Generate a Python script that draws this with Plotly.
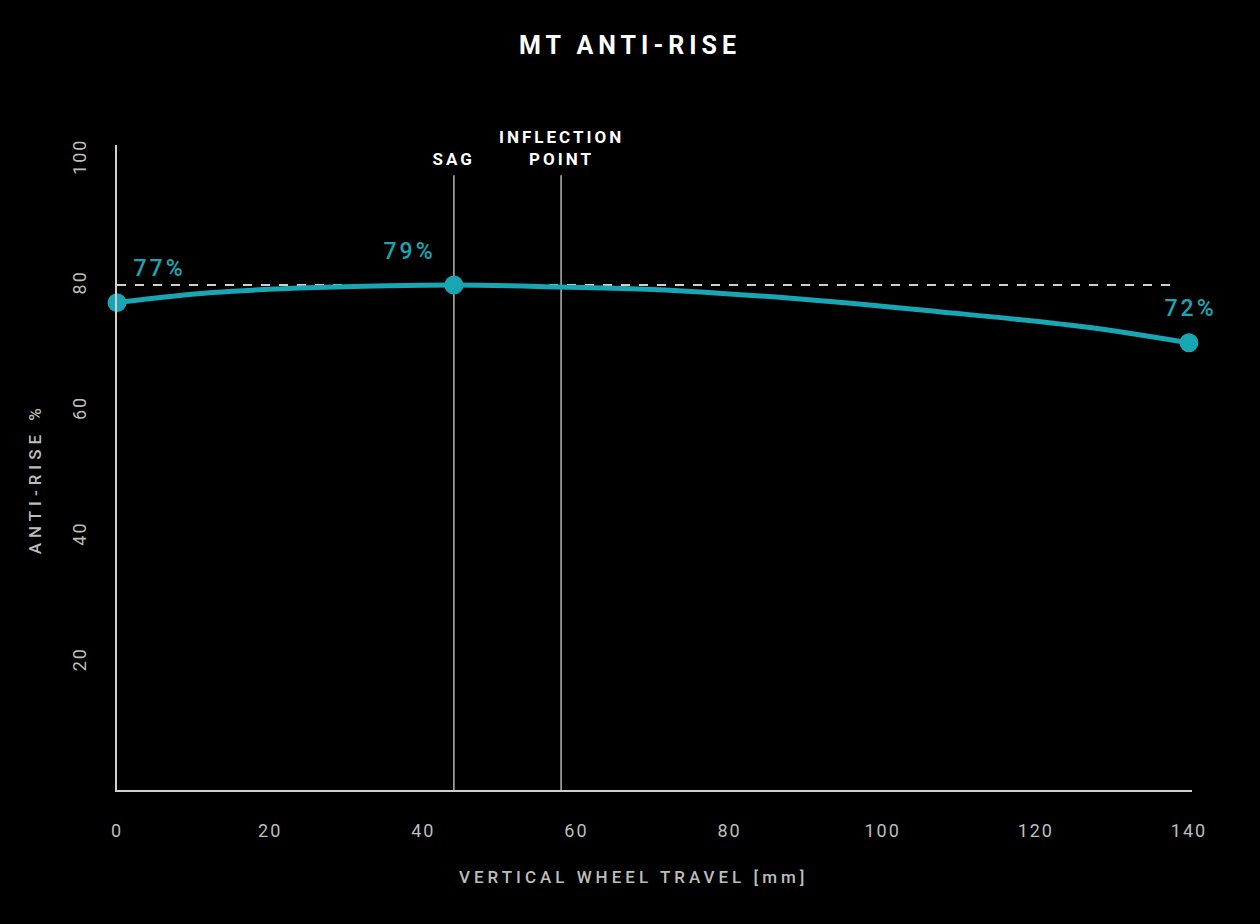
import plotly.graph_objects as go

# Curve
travel = [0, 12.5, 26, 44, 58, 70, 88, 107, 126, 140]
anti_rise = [77.2, 78.8, 79.6, 80.0, 79.7, 79.3, 77.9, 75.8, 73.4, 70.8]

# Marked points and their labels
key_travel = [0, 44, 140]
key_anti_rise = [77.2, 80.0, 70.8]
key_labels = ['77%', '79%', '72%']

# Reference markers
sag_travel = 44
inflection_travel = 58
ref_level = 80

x_ticks = [0, 20, 40, 60, 80, 100, 120, 140]
y_ticks = [20, 40, 60, 80, 100]

teal = '#19a6b4'
grey = '#bdbdbd'
font_name = 'Roboto'

fig = go.Figure()

# dashed reference line at 80%
fig.add_trace(go.Scatter(
    x=[0, 138.5], y=[ref_level, ref_level], mode='lines',
    line=dict(color='#cfcfcf', width=2, dash='dash'),
    hoverinfo='skip', showlegend=False))

# sag and inflection point lines
for xv in [sag_travel, inflection_travel]:
    fig.add_trace(go.Scatter(
        x=[xv, xv], y=[-0.4, 97.5], mode='lines',
        line=dict(color='#b5b5b5', width=1.5),
        hoverinfo='skip', showlegend=False))

# main curve
fig.add_trace(go.Scatter(
    x=travel, y=anti_rise, mode='lines',
    line=dict(color=teal, width=5, shape='spline', smoothing=1.0),
    cliponaxis=False, showlegend=False))

# key points
fig.add_trace(go.Scatter(
    x=key_travel, y=key_anti_rise, mode='markers',
    marker=dict(color=teal, size=19),
    cliponaxis=False, showlegend=False))

# value labels
label_pos = [(5.5, 82.7), (38.2, 85.3), (140.2, 76.3)]
for (lx, ly), txt in zip(label_pos, key_labels):
    fig.add_annotation(x=lx, y=ly, text=txt, showarrow=False,
                       font=dict(family=font_name, size=23, color=teal, weight=500))

# line labels
fig.add_annotation(x=sag_travel, y=97.5, text='SAG', showarrow=False,
                   yanchor='bottom', yshift=4,
                   font=dict(family=font_name, size=17, color='white', weight='bold'))
fig.add_annotation(x=inflection_travel, y=97.5, text='INFLECTION<br>POINT', showarrow=False,
                   yanchor='bottom', yshift=4,
                   font=dict(family=font_name, size=17, color='white', weight='bold'))

# axis titles
fig.add_annotation(xref='paper', yref='paper', x=0.48, y=-0.135,
                   xanchor='center', yanchor='middle',
                   text='VERTICAL WHEEL TRAVEL [mm]', showarrow=False,
                   font=dict(family=font_name, size=17, color=grey, weight=500))
fig.add_annotation(xref='paper', yref='paper', x=-0.0765, y=0.482, textangle=-90,
                   xanchor='center', yanchor='middle',
                   text='ANTI-RISE %', showarrow=False,
                   font=dict(family=font_name, size=17, color=grey, weight=500))

fig.update_layout(
    width=1260, height=924,
    paper_bgcolor='black', plot_bgcolor='black',
    margin=dict(l=117, r=68, t=145, b=134),
    title=dict(text='MT ANTI-RISE', x=0.5, xanchor='center', y=0.951, yanchor='middle',
               font=dict(family=font_name, size=25, color='white', weight='bold')),
    xaxis=dict(range=[0, 140.4], tickvals=x_ticks, showgrid=False, zeroline=False,
               showline=True, linecolor='#cfcfcf', linewidth=2,
               ticks='outside', ticklen=23, tickcolor='rgba(0,0,0,0)',
               tickfont=dict(family=font_name, size=18, color=grey)),
    yaxis=dict(range=[-0.4, 102.3], tickvals=y_ticks, showgrid=False, zeroline=False,
               showline=True, linecolor='#cfcfcf', linewidth=2,
               ticks='outside', ticklen=22, tickcolor='rgba(0,0,0,0)', tickangle=-90,
               tickfont=dict(family=font_name, size=18, color=grey)),
)

# page without margin, letter spacing like the original artwork
js = """
document.body.style.margin = '0';
document.body.style.background = 'black';
var gd = document.getElementById('{plot_id}');
function sp(sel, v) { gd.querySelectorAll(sel).forEach(function(t) { t.style.letterSpacing = v; }); }
sp('.gtitle', '5px');
sp('.xtick text', '2px');
sp('.ytick text', '2px');
sp('.annotation-text', '3px');
var ann = gd.querySelectorAll('.annotation-text');
ann[ann.length - 2].style.letterSpacing = '4px';
ann[ann.length - 1].style.letterSpacing = '5px';
"""
fig.write_html('out.html', post_script=js, config={'displayModeBar': False})
